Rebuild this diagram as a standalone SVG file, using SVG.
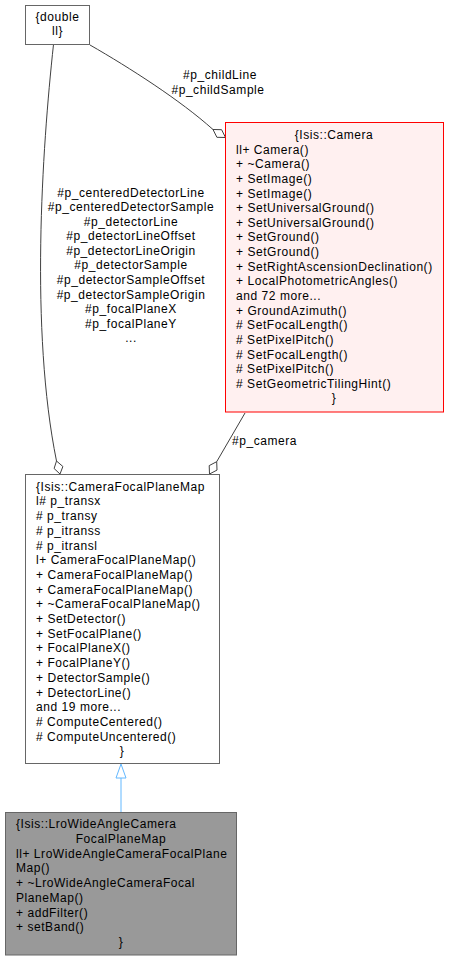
<svg xmlns="http://www.w3.org/2000/svg" width="449" height="961" viewBox="0 0 449 961">
<style>
text{font-family:"Liberation Sans",Arial,Helvetica,sans-serif;font-size:12px;letter-spacing:0.55px;fill:#000}
.m{text-anchor:middle}
.box{fill:#fff;stroke:#666;stroke-width:1}
.cam{fill:#fff0f0;stroke:#ff0000;stroke-width:1}
.cur{fill:#999;stroke:#666;stroke-width:1}
.e{fill:none;stroke:#404040;stroke-width:1}
.d{fill:#fff;stroke:#404040;stroke-width:1}
.inh{fill:none;stroke:#63b8ff;stroke-width:1}
.inhh{fill:#fff;stroke:#63b8ff;stroke-width:1}
</style>
<g id="connectors">
  <path class="e" d="M90,45 C130,68 180,100 213,129.5"/>
  <polygon class="d" points="213,129.5 221.6,129.7 225.5,137.5 216.9,137.3"/>
  <text class="m" x="220" y="79">#p_childLine</text>
  <text class="m" x="218" y="93.5">#p_childSample</text>
  <path class="e" d="M53.5,44.5 C42,150 30,330 56.5,461"/>
  <polygon class="d" points="56.5,461 62.9,466.5 60,474 54.1,468.5"/>
  <g>
    <text class="m" x="131" y="196.5">#p_centeredDetectorLine</text>
    <text class="m" x="131" y="211.1">#p_centeredDetectorSample</text>
    <text class="m" x="131" y="225.7">#p_detectorLine</text>
    <text class="m" x="131" y="240.2">#p_detectorLineOffset</text>
    <text class="m" x="131" y="254.8">#p_detectorLineOrigin</text>
    <text class="m" x="131" y="269.4">#p_detectorSample</text>
    <text class="m" x="131" y="284">#p_detectorSampleOffset</text>
    <text class="m" x="131" y="298.5">#p_detectorSampleOrigin</text>
    <text class="m" x="131" y="313.1">#p_focalPlaneX</text>
    <text class="m" x="131" y="327.7">#p_focalPlaneY</text>
    <text class="m" x="131" y="342.3">...</text>
  </g>
  <path class="e" d="M245,413 L216.7,461.7"/>
  <polygon class="d" points="216.7,461.7 217,470.1 209.5,474 209.2,465.6"/>
  <text x="232" y="444.5">#p_camera</text>
  <line class="inh" x1="121" y1="812" x2="121" y2="778"/>
  <polygon class="inhh" points="121,764 116,778 126,778"/>
</g>
<g id="node_double">
  <rect class="box" x="25.5" y="5.5" width="64" height="39"/>
  <text class="m" x="57.5" y="20.5">{double</text>
  <text class="m" x="57.5" y="35">ll}</text>
</g>
<g id="node_camera">
  <rect class="cam" x="225.5" y="122.5" width="218" height="289.5"/>
  <text class="m" x="334" y="139">{Isis::Camera</text>
  <text x="236" y="153.6">ll+ Camera()</text>
  <text x="236" y="168.3">+ ~Camera()</text>
  <text x="236" y="182.9">+ SetImage()</text>
  <text x="236" y="197.5">+ SetImage()</text>
  <text x="236" y="212.2">+ SetUniversalGround()</text>
  <text x="236" y="226.8">+ SetUniversalGround()</text>
  <text x="236" y="241.4">+ SetGround()</text>
  <text x="236" y="256">+ SetGround()</text>
  <text x="236" y="270.7">+ SetRightAscensionDeclination()</text>
  <text x="236" y="285.3">+ LocalPhotometricAngles()</text>
  <text x="236" y="299.9">and 72 more...</text>
  <text x="236" y="314.6">+ GroundAzimuth()</text>
  <text x="236" y="329.2"># SetFocalLength()</text>
  <text x="236" y="343.8"># SetPixelPitch()</text>
  <text x="236" y="358.5"># SetFocalLength()</text>
  <text x="236" y="373.1"># SetPixelPitch()</text>
  <text x="236" y="387.7"># SetGeometricTilingHint()</text>
  <text class="m" x="334" y="402.3">}</text>
</g>
<g id="node_cfpm">
  <rect class="box" x="25.5" y="474.5" width="194" height="289"/>
  <text x="36" y="490.7">{Isis::CameraFocalPlaneMap</text>
  <text x="36" y="505.4">l# p_transx</text>
  <text x="36" y="520.1"># p_transy</text>
  <text x="36" y="534.8"># p_itranss</text>
  <text x="36" y="549.5"># p_itransl</text>
  <text x="36" y="564.2">l+ CameraFocalPlaneMap()</text>
  <text x="36" y="578.9">+ CameraFocalPlaneMap()</text>
  <text x="36" y="593.6">+ CameraFocalPlaneMap()</text>
  <text x="36" y="608.3">+ ~CameraFocalPlaneMap()</text>
  <text x="36" y="623">+ SetDetector()</text>
  <text x="36" y="637.7">+ SetFocalPlane()</text>
  <text x="36" y="652.4">+ FocalPlaneX()</text>
  <text x="36" y="667.1">+ FocalPlaneY()</text>
  <text x="36" y="681.8">+ DetectorSample()</text>
  <text x="36" y="696.5">+ DetectorLine()</text>
  <text x="36" y="711.2">and 19 more...</text>
  <text x="36" y="725.9"># ComputeCentered()</text>
  <text x="36" y="740.6"># ComputeUncentered()</text>
  <text class="m" x="122" y="755.3">}</text>
</g>
<g id="node_lro">
  <rect class="cur" x="5.5" y="812.5" width="231" height="142.5"/>
  <text x="16" y="828.3">{Isis::LroWideAngleCamera</text>
  <text class="m" x="121" y="843">FocalPlaneMap</text>
  <text x="16" y="857.7">ll+ LroWideAngleCameraFocalPlane</text>
  <text x="16" y="872.4">Map()</text>
  <text x="16" y="887.1">+ ~LroWideAngleCameraFocal</text>
  <text x="16" y="901.8">PlaneMap()</text>
  <text x="16" y="916.5">+ addFilter()</text>
  <text x="16" y="931.2">+ setBand()</text>
  <text class="m" x="121" y="945.9">}</text>
</g>
</svg>
